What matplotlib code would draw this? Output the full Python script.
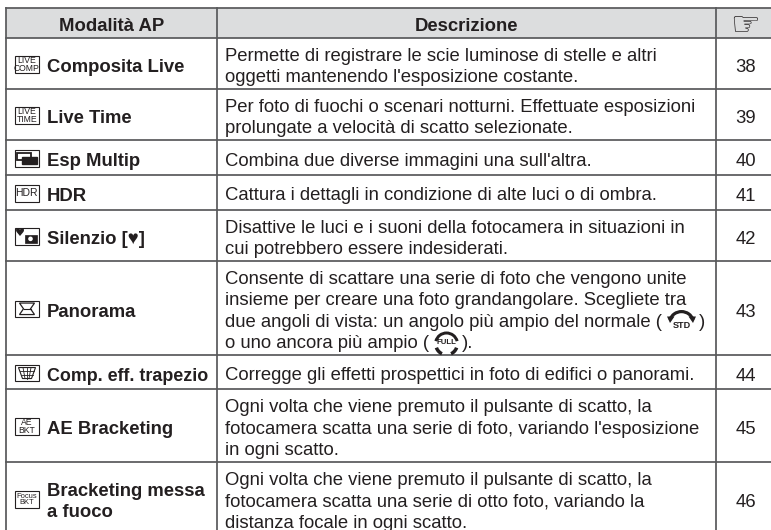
import matplotlib
matplotlib.use("Agg")
import matplotlib.pyplot as plt
from matplotlib.patches import Rectangle, Polygon, Circle, Wedge

W, H = 771, 530
plt.rcParams['font.family'] = ['Liberation Sans', 'DejaVu Sans']

headers = ["Modalità AP", "Descrizione", "☞"]
modes = ["Composita Live", "Live Time", "Esp Multip", "HDR", "Silenzio [♥]", "Panorama",
         "Comp. eff. trapezio", "AE Bracketing", "Bracketing messa\na fuoco"]
descriptions = [
    ["Permette di registrare le scie luminose di stelle e altri",
     "oggetti mantenendo l'esposizione costante."],
    ["Per foto di fuochi o scenari notturni. Effettuate esposizioni",
     "prolungate a velocità di scatto selezionate."],
    ["Combina due diverse immagini una sull'altra."],
    ["Cattura i dettagli in condizione di alte luci o di ombra."],
    ["Disattive le luci e i suoni della fotocamera in situazioni in",
     "cui potrebbero essere indesiderati."],
    ["Consente di scattare una serie di foto che vengono unite",
     "insieme per creare una foto grandangolare. Scegliete tra",
     "due angoli di vista: un angolo più ampio del normale (",
     "o uno ancora più ampio ("],
    ["Corregge gli effetti prospettici in foto di edifici o panorami."],
    ["Ogni volta che viene premuto il pulsante di scatto, la",
     "fotocamera scatta una serie di foto, variando l'esposizione",
     "in ogni scatto."],
    ["Ogni volta che viene premuto il pulsante di scatto, la",
     "fotocamera scatta una serie di otto foto, variando la",
     "distanza focale in ogni scatto."],
]
pages = [38, 39, 40, 41, 42, 43, 44, 45, 46]
icon_labels = ["LIVE\nCOMP", "LIVE\nTIME", "", "HDR", "", "", "", "AE\nBKT", "Focus\nBKT"]

# the table runs past the right and bottom edges of the picture
col_x = [6, 217, 716, 775]
row_y = [8, 38, 89, 140, 175, 210, 261, 355, 389, 462, 535]
TXT = "#231f20"
LINE = "#58595b"

fig = plt.figure(figsize=(W / 100, H / 100), dpi=100)
ax = fig.add_axes([0, 0, 1, 1])
ax.set_xlim(0, W)
ax.set_ylim(H, 0)
ax.axis("off")

ax.add_patch(Rectangle((col_x[0], row_y[0]), col_x[3] - col_x[0], row_y[1] - row_y[0],
                       fc="#dcddde", ec="none", zorder=0))
for y in row_y:
    ax.plot([col_x[0], col_x[3]], [y, y], color=LINE, lw=1.25, zorder=2, solid_capstyle="projecting")
for x in col_x:
    ax.plot([x, x], [row_y[0], row_y[-1]], color=LINE, lw=1.25, zorder=2, solid_capstyle="projecting")

FS = 13.35
BASE = 8.6
BODY = 8.0
# header
ax.text((col_x[0] + col_x[1]) / 2, 31, headers[0], ha="center", va="baseline", fontsize=FS, weight="bold", color=TXT)
ax.text((col_x[1] + col_x[2]) / 2, 31, headers[1], ha="center", va="baseline", fontsize=FS, weight="bold", color=TXT)
ax.text((col_x[2] + col_x[3]) / 2, 25.5, headers[2], ha="center", va="center", fontsize=24, color=TXT,
        family="DejaVu Sans")

LH = 21.6
for i, (m, d, p, lab) in enumerate(zip(modes, descriptions, pages, icon_labels)):
    top, bot = row_y[i + 1], row_y[i + 2]
    cy = (top + bot) / 2
    if "\n" in m:
        l1, l2 = m.split("\n")
        ax.text(47, cy - 2.8, l1, ha="left", va="baseline", fontsize=FS, weight="bold", color=TXT)
        ax.text(47, cy + 18.8, l2, ha="left", va="baseline", fontsize=FS, weight="bold", color=TXT)
    else:
        ax.text(47, cy + BASE, m, ha="left", va="baseline", fontsize=12.85 if i == 6 else FS,
                weight="bold", color=TXT)
    n = len(d)
    for j, line in enumerate(d):
        ax.text(225, cy + (j - (n - 1) / 2) * LH + BODY, line, ha="left", va="baseline", fontsize=FS, color=TXT)
    ax.text((col_x[2] + col_x[3]) / 2, cy + BASE, str(p), ha="center", va="baseline", fontsize=FS, color=TXT)
    # icon
    ix, iw, ih = 14.5, 24.5, 16.5
    cyi = cy + 0.8
    iy = cyi - ih / 2
    ax.add_patch(Rectangle((ix, iy), iw, ih, fc="white", ec=TXT, lw=0.8, zorder=3))
    if lab:
        fs = 6.2 if "\n" in lab else 7.5
        if lab.startswith("Focus"):
            fs = 5.4
        ax.text(ix + iw / 2, cyi + 0.2, lab, ha="center", va="center", fontsize=fs, color=TXT, zorder=4,
                linespacing=0.85)
    elif i == 2:  # multi exposure
        ax.add_patch(Rectangle((ix + 2.5, iy + 2.5), 14, 7.5, fc="white", ec=TXT, lw=1.3, zorder=4))
        ax.add_patch(Rectangle((ix + 7.5, iy + 6.5), 14.5, 7.5, fc=TXT, ec=TXT, lw=1.0, zorder=5))
    elif i == 4:  # silent
        ax.text(ix + 5.5, iy + 4.6, "♥", ha="center", va="center", fontsize=8, color=TXT, zorder=4,
                family="DejaVu Sans")
        ax.add_patch(Rectangle((ix + 10, iy + 7), 12, 7.5, fc=TXT, ec=TXT, lw=0.5, zorder=4))
        ax.add_patch(Circle((ix + 16, iy + 10.8), 2.3, fc="white", ec="none", zorder=5))
    elif i == 5:  # panorama
        ax.add_patch(Polygon([(ix + 5, iy + 2.5), (ix + 20, iy + 2.5), (ix + 16, iy + 8.25), (ix + 20, iy + 14),
                              (ix + 5, iy + 14), (ix + 9, iy + 8.25)], fc="white", ec=TXT, lw=0.9, zorder=4))
        ax.plot([ix + 9, ix + 16], [iy + 8.25] * 2, color=TXT, lw=0.8, zorder=5)
    elif i == 6:  # keystone
        ax.add_patch(Polygon([(ix + 4, iy + 3), (ix + 21, iy + 3), (ix + 17, iy + 14), (ix + 8, iy + 14)],
                             fc="white", ec=TXT, lw=0.8, zorder=4))
        ax.plot([ix + 5.5, ix + 19.5], [iy + 6.6] * 2, color=TXT, lw=0.6, zorder=5)
        ax.plot([ix + 7, ix + 18], [iy + 10.2] * 2, color=TXT, lw=0.6, zorder=5)
        for a, b in [(8.5, 10.5), (12.5, 12.5), (16.5, 14.5)]:
            ax.plot([ix + a, ix + b], [iy + 3, iy + 14], color=TXT, lw=0.6, zorder=5)

# closing brackets and STD / FULL glyphs in the panorama row
cy5 = (row_y[6] + row_y[7]) / 2
y3 = cy5 + 0.5 * LH + BODY
y4 = cy5 + 1.5 * LH + BODY
ax.text(698.5, y3, ")", ha="left", va="baseline", fontsize=FS, color=TXT)
ax.text(461.5, y4, ").", ha="left", va="baseline", fontsize=FS, color=TXT)

sx, sy = 681.5, 324
ax.add_patch(Wedge((sx, sy), 14, 200, 340, width=3.2, fc=TXT, ec="none", zorder=4))
ax.add_patch(Polygon([(sx - 14.5, 316.5), (sx - 7, 316.5), (sx - 11.5, 323)], fc=TXT, ec="none", zorder=4))
ax.add_patch(Polygon([(sx + 14.5, 316.5), (sx + 7, 316.5), (sx + 11.5, 323)], fc=TXT, ec="none", zorder=4))
ax.text(sx, 325, "STD", ha="center", va="center", fontsize=6.6, weight="bold", color=TXT, zorder=4)

fx, fy = 446.5, 344
ax.add_patch(Wedge((fx, fy), 12.5, 195, 345, width=3, fc=TXT, ec="none", zorder=4))
ax.add_patch(Wedge((fx, fy), 12.5, 20, 65, width=3.5, fc=TXT, ec="none", zorder=4))
ax.add_patch(Wedge((fx, fy), 12.5, 115, 160, width=3.5, fc=TXT, ec="none", zorder=4))
ax.text(fx, fy - 1, "FULL", ha="center", va="center", fontsize=5.6, weight="bold", color=TXT, zorder=5)

fig.savefig("out.png", dpi=100)
